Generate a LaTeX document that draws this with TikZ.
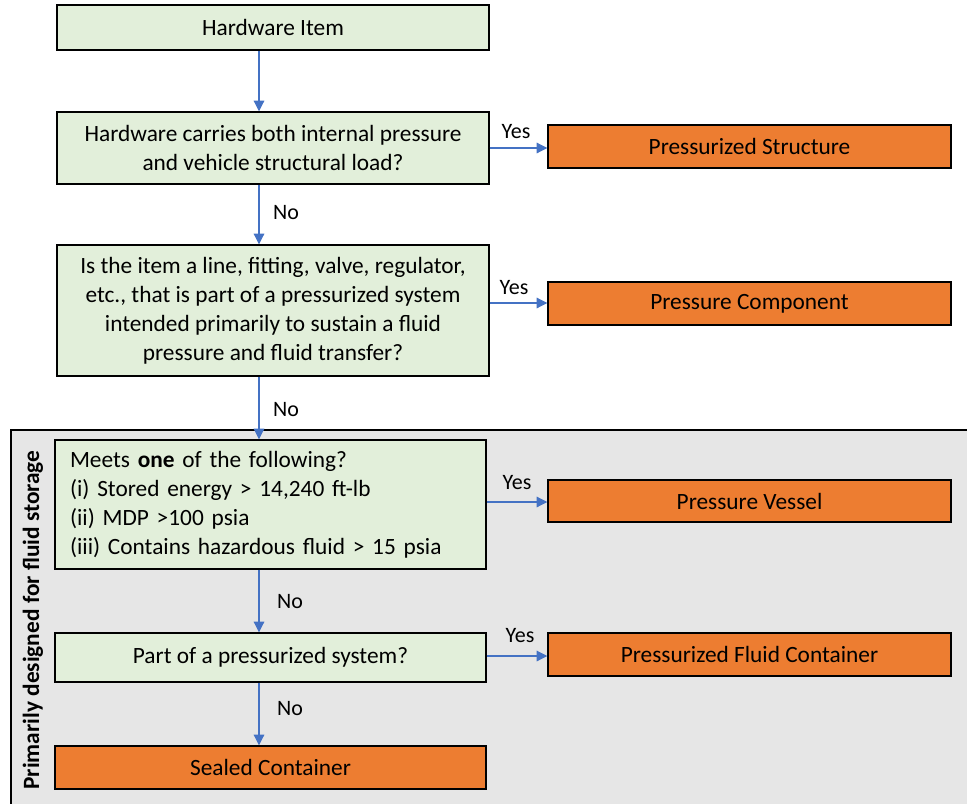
\documentclass[tikz,border=0pt]{standalone}
\usepackage{fontspec}
\setmainfont{Carlito}
\usetikzlibrary{arrows.meta}
\definecolor{boxgreen}{HTML}{E2EFDA}
\definecolor{boxorange}{HTML}{ED7D31}
\definecolor{arrowblue}{HTML}{4472C4}
\definecolor{zonegray}{HTML}{E6E6E6}
\tikzset{
  base/.style={draw=black, line width=1.1pt, inner sep=0pt, font=\fontsize{17.5}{21.75}\selectfont},
  question/.style={base, fill=boxgreen, align=center},
  outcome/.style={base, fill=boxorange},
  flow/.style={draw=arrowblue, line width=0.8pt, -{Triangle[length=8pt,width=8pt]}},
  answer/.style={font=\fontsize{16.5}{18}\selectfont, inner sep=0pt}
}
\begin{document}
\begin{tikzpicture}[x=0.75pt,y=-0.75pt]
\useasboundingbox (0,0) rectangle (967,803);
\clip (0,0) rectangle (967,803);
\fill[white] (0,0) rectangle (967,803);

% zone for items primarily designed for fluid storage
\fill[zonegray] (11,430) rectangle (975,812);
\draw[line width=1.3pt] (11,812) -- (11,430) -- (975,430);
\node[rotate=90, font=\bfseries\fontsize{17.5}{20}\selectfont, inner sep=0pt] (zone) at (33,620) {Primarily designed for fluid storage};

% decision boxes
\node[question, minimum width=324pt, minimum height=33.75pt] (hw) at (273,27.5) {Hardware Item};
\node[question, minimum width=324pt, minimum height=54pt] (q1) at (273,148)
  {Hardware carries both internal pressure\\and vehicle structural load?};
\node[question, minimum width=324pt, minimum height=98.25pt] (q2) at (273,310.5)
  {Is the item a line, fitting, valve, regulator,\\etc., that is part of a pressurized system\\intended primarily to sustain a fluid\\pressure and fluid transfer?};
\node[question, align=left, text width=300.75pt, minimum width=323.25pt, minimum height=96.75pt] (q3) at (270.5,504.5)
  {Meets \textbf{one} of the following?\\(i) Stored energy > 14,240 ft-lb\\(ii) MDP >100 psia\\(iii) Contains hazardous fluid > 15 psia};
\node[question, minimum width=323.25pt, minimum height=36.75pt] (q4) at (270.5,657.5) {Part of a pressurized system?};

% outcome boxes
\node[outcome, minimum width=302.25pt, minimum height=32.25pt] (ps) at (749.5,146.5) {Pressurized Structure};
\node[outcome, minimum width=302.25pt, minimum height=32.25pt] (pc) at (749.5,303.5) {Pressure Component};
\node[outcome, minimum width=302.25pt, minimum height=31.5pt] (pv) at (749.5,501) {Pressure Vessel};
\node[outcome, minimum width=302.25pt, minimum height=32.25pt] (pfc) at (749.5,654.5) {Pressurized Fluid Container};
\node[outcome, minimum width=323.25pt, minimum height=32.25pt] (sc) at (270.5,767.5) {Sealed Container};

% vertical "No" path
\coordinate (spine) at (259,0);
\draw[flow] (hw.south -| spine) -- (q1.north -| spine);
\draw[flow] (q1.south -| spine) -- (q2.north -| spine);
\draw[flow] (q2.south -| spine) -- (q3.north -| spine);
\draw[flow] (q3.south -| spine) -- (q4.north -| spine);
\draw[flow] (q4.south -| spine) -- (sc.north -| spine);
\node[answer] (no1) at (286,213) {No};
\node[answer] (no2) at (286,410) {No};
\node[answer] (no3) at (290,602) {No};
\node[answer] (no4) at (290,709) {No};

% horizontal "Yes" branches
\draw[flow] (q1.east |- 0,148) -- (ps.west |- 0,148);
\draw[flow] (q2.east |- 0,303) -- (pc.west |- 0,303);
\draw[flow] (q3.east |- 0,502) -- (pv.west |- 0,502);
\draw[flow] (q4.east |- 0,656) -- (pfc.west |- 0,656);
\node[answer] (yes1) at (516,132) {Yes};
\node[answer] (yes2) at (514,288) {Yes};
\node[answer] (yes3) at (517,483) {Yes};
\node[answer] (yes4) at (520,636) {Yes};
\end{tikzpicture}
\end{document}
